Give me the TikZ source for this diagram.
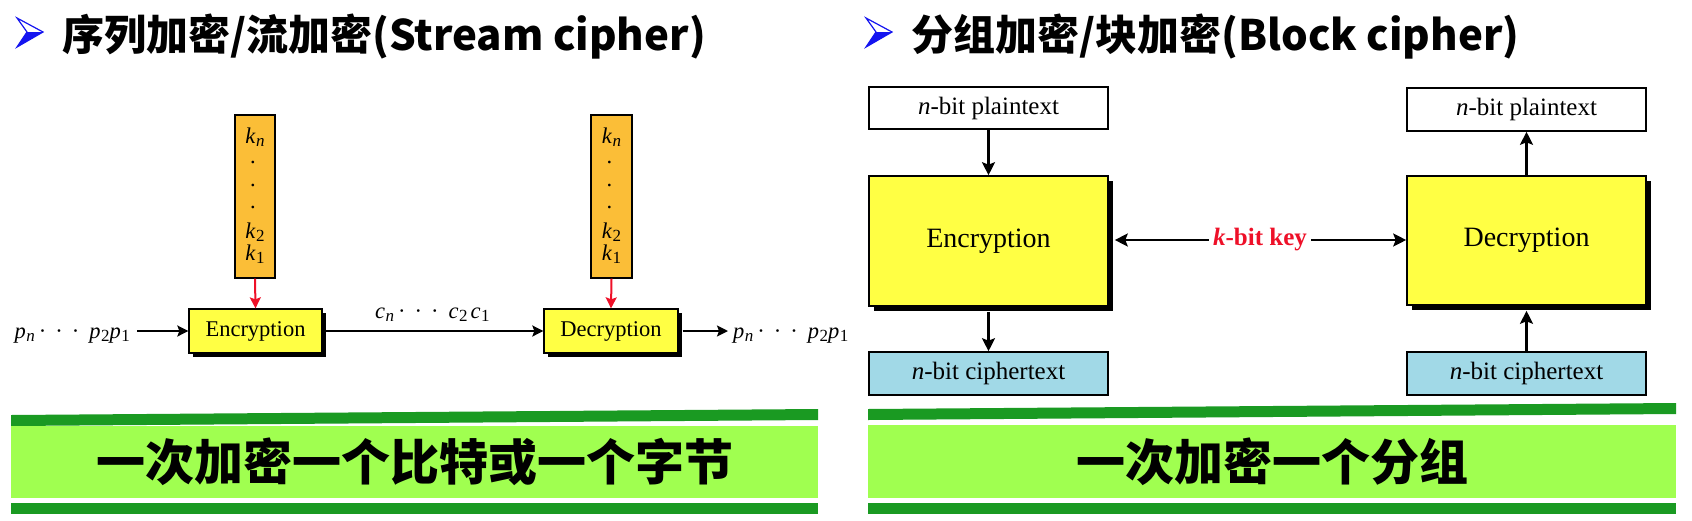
\documentclass[tikz,border=0pt]{standalone}
\usepackage{fontspec}
\setmainfont{Liberation Serif}
\newfontfamily\cjk{Noto Sans CJK SC}
\usetikzlibrary{arrows.meta,calc,shadows}
\definecolor{keyor}{RGB}{251,190,55}
\definecolor{yel}{RGB}{255,255,68}
\definecolor{lblue}{RGB}{161,217,231}
\definecolor{dgreen}{RGB}{26,154,34}
\definecolor{lgreen}{RGB}{160,255,80}
\definecolor{keyred}{RGB}{238,16,40}
\definecolor{tblue}{RGB}{20,20,240}
\newcommand{\vsub}[2]{\textit{#1}\kern0.5pt\raisebox{-0.32ex}{\fontsize{17}{19}\selectfont #2}}
\begin{document}
\begin{tikzpicture}[x=1pt,y=-1pt,
  diag/.style={draw=black, line width=1.3pt, inner sep=0pt, align=center},
  bdiag/.style={draw=black, line width=1.6pt, inner sep=0pt, align=center},
  shad/.style={drop shadow={shadow xshift=4pt, shadow yshift=-4pt, opacity=1, fill=black}},
  bshad/.style={drop shadow={shadow xshift=5pt, shadow yshift=-5pt, opacity=1, fill=black}},
  arr/.style={line width=1.9pt, -{Stealth[length=11pt,width=11pt,inset=2pt]}},
  barr/.style={line width=2.2pt, -{Stealth[length=13pt,width=13pt,inset=2.5pt]}},
  redarr/.style={line width=2pt, draw=keyred, -{Stealth[length=11pt,width=11pt,inset=2pt]}},
  lfont/.style={font=\fontsize{22.5}{26}\selectfont},
  rfont/.style={font=\fontsize{25}{29}\selectfont},
  rbig/.style={font=\fontsize{28}{32}\selectfont},
  ttl/.style={font=\cjk\bfseries\fontsize{42}{48}\selectfont, inner sep=0pt, anchor=base west},
  band/.style={fill=lgreen, inner sep=0pt, font=\cjk\bfseries\fontsize{49}{55}\selectfont}
]
\useasboundingbox (0,0) rectangle (1692,520);

% ---------- titles ----------
\draw[tblue, line width=1.2pt, line join=miter] (17,18) -- (43,32) -- (17,47) -- (27,32) -- cycle;
\fill[tblue] (27,32) -- (43,32) -- (17,47) -- cycle;
\node[ttl] (t1) at (62,50) {序列加密/流加密(Stream cipher)};
\draw[tblue, line width=1.2pt, line join=miter] (866,18) -- (892,32) -- (866,47) -- (876,32) -- cycle;
\fill[tblue] (876,32) -- (892,32) -- (866,47) -- cycle;
\node[ttl] (t2) at (911,50) {分组加密/块加密(Block cipher)};

% ---------- stream cipher ----------
\node[diag, fill=keyor, minimum width=40pt, minimum height=163pt] (key1) at (255,196.5) {};
\node[diag, fill=keyor, minimum width=41pt, minimum height=163pt] (key2) at (611.5,196.5) {};
\foreach \k/\x in {key1/255, key2/611.5}{
  \node[lfont, inner sep=0pt] (\k n) at (\x,137) {\vsub{k}{\textit{n}}};
  \node[lfont, inner sep=0pt] (\k d1) at (\x-2,162) {.};
  \node[lfont, inner sep=0pt] (\k d2) at (\x-2,185) {.};
  \node[lfont, inner sep=0pt] (\k d3) at (\x-2,207) {.};
  \node[lfont, inner sep=0pt] (\k b) at (\x,232) {\vsub{k}{2}};
  \node[lfont, inner sep=0pt] (\k a) at (\x,254) {\vsub{k}{1}};
}
\node[diag, fill=yel, shad, lfont, minimum width=133pt, minimum height=44pt] (enc1) at (255.5,331) {Encryption};
\node[diag, fill=yel, shad, lfont, minimum width=134pt, minimum height=44pt] (dec1) at (611,331) {Decryption};
\draw[redarr] (key1.south) -- (enc1.north);
\draw[redarr] (key2.south) -- (dec1.north);

\node[lfont, anchor=base east, inner xsep=7pt, inner ysep=0pt] (pin) at (137,338)
  {\vsub{p}{\textit{n}}\hspace{4pt}·\hspace{9pt}·\hspace{9pt}·\hspace{10pt}\vsub{p}{2}\vsub{p}{1}};
\draw[arr] (pin.east |- enc1.west) -- (enc1.west);
\draw[arr] (enc1.east) -- (dec1.west);
\node[lfont, anchor=base west, inner sep=0pt] (clab) at (375,318)
  {\vsub{c}{\textit{n}}\hspace{4pt}·\hspace{9pt}·\hspace{9pt}·\hspace{10pt}\vsub{c}{2}\hspace{3pt}\vsub{c}{1}};
\node[lfont, anchor=base west, inner xsep=5pt, inner ysep=0pt] (pout) at (728,338)
  {\vsub{p}{\textit{n}}\hspace{4pt}·\hspace{9pt}·\hspace{9pt}·\hspace{10pt}\vsub{p}{2}\vsub{p}{1}};
\draw[arr] ([xshift=4pt]dec1.east) -- (pout.west |- dec1.east);

% ---------- block cipher ----------
\node[bdiag, fill=white, rfont, minimum width=239pt, minimum height=42pt] (pt1) at (988.5,108) {\textit{n}-bit plaintext};
\node[bdiag, fill=yel, bshad, rbig, minimum width=239pt, minimum height=130pt] (enc2) at (988.5,241) {Encryption};
\node[bdiag, fill=lblue, rfont, minimum width=239pt, minimum height=43pt] (ct1) at (988.5,373.5) {\textit{n}-bit ciphertext};
\node[bdiag, fill=white, rfont, minimum width=239pt, minimum height=43pt] (pt2) at (1526.5,109.5) {\textit{n}-bit plaintext};
\node[bdiag, fill=yel, bshad, rbig, minimum width=239pt, minimum height=129pt] (dec2) at (1526.5,240.5) {Decryption};
\node[bdiag, fill=lblue, rfont, minimum width=239pt, minimum height=43pt] (ct2) at (1526.5,373.5) {\textit{n}-bit ciphertext};
\node[rfont, text=keyred, inner xsep=4pt, inner ysep=0pt] (kkey) at (1260,240) {\bfseries\textit{k}-bit key};

\draw[barr] (pt1.south) -- (enc2.north);
\draw[barr] ([yshift=-5pt]enc2.south) -- (ct1.north);
\draw[barr] (kkey.west) -- ([xshift=6pt]enc2.east |- kkey.west);
\draw[barr] (kkey.east) -- (dec2.west |- kkey.east);
\draw[barr] (dec2.north) -- (pt2.south);
\draw[barr] (ct2.north) -- ([yshift=-5pt]dec2.south);

% ---------- green bars ----------
\fill[dgreen] (11,415) -- (818,409) -- (818,420) -- (11,426) -- cycle;
\node[band, minimum width=807pt, minimum height=72pt] (band1) at (414.5,462) {一次加密一个比特或一个字节};
\fill[dgreen] (11,503) rectangle (818,514);
\fill[dgreen] (868,409) -- (1676,403) -- (1676,414) -- (868,420) -- cycle;
\node[band, minimum width=808pt, minimum height=73pt] (band2) at (1272,461.5) {一次加密一个分组};
\fill[dgreen] (868,503) rectangle (1676,514);
\end{tikzpicture}
\end{document}
